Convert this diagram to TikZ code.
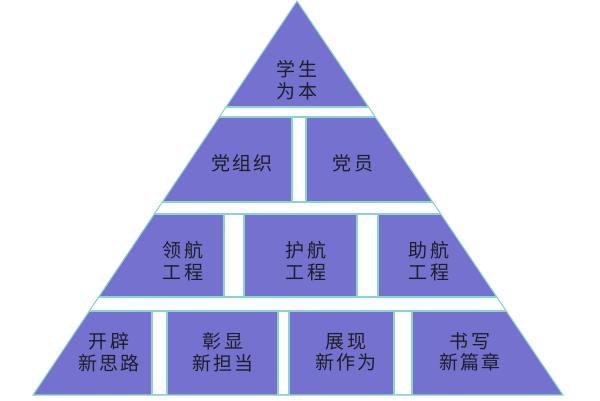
\documentclass[tikz,border=0pt]{standalone}
\usepackage{fontspec}
\newfontfamily\cjkfont[LetterSpace=12]{Noto Sans CJK SC}
\usepackage{xcolor}
\usepackage{tikz}
\definecolor{pyrfill}{RGB}{116,114,206}
\definecolor{pyredge}{RGB}{140,212,212}
\definecolor{labelink}{RGB}{30,30,40}

\begin{document}
\begin{tikzpicture}[
  x=1pt, y=-1pt,
  edge/.style={draw=pyredge, line width=1.1pt},
  gap/.style={edge, fill=white},
  label/.style={font=\cjkfont\fontsize{19}{21.5}\selectfont, text=labelink, align=center, inner sep=0pt}]
\useasboundingbox (0,0) rectangle (600,400);
\coordinate (apex) at (297,1);
\coordinate (bl) at (33,395);
\coordinate (br) at (563,395);
\fill[pyrfill] (apex) -- (bl) -- (br) -- cycle;

% white bands and bars, cut to the pyramid
\begin{scope}
  \clip (apex) -- (bl) -- (br) -- cycle;
  \draw[gap] (0,107) rectangle (600,117);
  \draw[gap] (0,202) rectangle (600,214);
  \draw[gap] (0,297) rectangle (600,311);
  \draw[gap] (292,117) rectangle (306,202);
  \draw[gap] (224,214) rectangle (244,297);
  \draw[gap] (357,214) rectangle (378,297);
  \draw[gap] (152,311) rectangle (167,395);
  \draw[gap] (278,311) rectangle (289,395);
  \draw[gap] (394,311) rectangle (412,395);
\end{scope}
\draw[edge] (apex) -- (bl) -- (br) -- cycle;

\node[label] (top) at (297,80) {学生\\为本};
\node[label] (party) at (242,163) {党组织};
\node[label] (member) at (353,163) {党员};
\node[label] (lead) at (183,261) {领航\\工程};
\node[label] (guard) at (306,261) {护航\\工程};
\node[label] (assist) at (429,261) {助航\\工程};
\node[label] (path) at (109,352) {开辟\\新思路};
\node[label] (duty) at (223,352) {彰显\\新担当};
\node[label] (deed) at (346,352) {展现\\新作为};
\node[label] (page) at (470,352) {书写\\新篇章};
\end{tikzpicture}
\end{document}
